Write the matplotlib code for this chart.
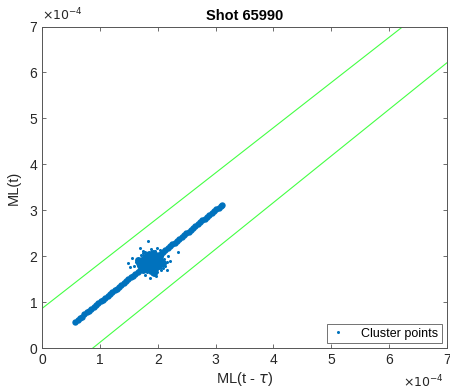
import matplotlib
matplotlib.use('Agg')
import matplotlib.pyplot as plt

plt.rcParams['font.family'] = ['Liberation Sans', 'DejaVu Sans']

# values in units of 1e-4
band_x = [0.57, 0.61, 0.65, 0.69, 0.73, 0.77, 0.81, 0.85, 0.89, 0.93, 0.97, 1.01,
          1.05, 1.09, 1.13, 1.17, 1.21, 1.25, 1.29, 1.33, 1.37, 1.41, 1.45, 1.49,
          1.53, 1.57, 1.61, 1.65, 1.69, 1.73, 1.77, 1.81, 1.85, 1.89, 1.93, 1.97,
          2.01, 2.05, 2.09, 2.13, 2.17, 2.21, 2.25, 2.29, 2.33, 2.37, 2.41, 2.45,
          2.49, 2.53, 2.57, 2.61, 2.65, 2.69, 2.73, 2.77, 2.81, 2.85, 2.89, 2.93,
          2.97, 3.01, 3.05, 3.09, 3.11]
band_y = [0.57, 0.61, 0.65, 0.69, 0.74, 0.78, 0.82, 0.86, 0.90, 0.94, 0.98, 1.02,
          1.06, 1.10, 1.14, 1.18, 1.22, 1.26, 1.30, 1.34, 1.38, 1.42, 1.46, 1.50,
          1.54, 1.58, 1.62, 1.66, 1.70, 1.74, 1.78, 1.82, 1.86, 1.90, 1.94, 1.98,
          2.02, 2.06, 2.10, 2.14, 2.18, 2.22, 2.26, 2.30, 2.34, 2.38, 2.42, 2.46,
          2.50, 2.54, 2.58, 2.62, 2.66, 2.70, 2.74, 2.78, 2.82, 2.86, 2.90, 2.94,
          2.98, 3.02, 3.06, 3.10, 3.12]

core_x = [1.70, 1.75, 1.80, 1.85, 1.90, 1.95, 1.75, 1.80, 1.85, 1.90, 1.95, 2.00,
          1.80, 1.85, 1.90, 1.95, 2.00, 2.05, 1.72, 1.78, 1.85, 1.92, 1.88, 1.95,
          2.02, 2.08, 1.68, 1.82, 1.98, 1.66, 1.74, 2.04, 1.93]
core_y = [1.80, 1.85, 1.90, 1.95, 2.00, 2.02, 1.75, 1.80, 1.85, 1.90, 1.95, 1.98,
          1.72, 1.75, 1.80, 1.85, 1.88, 1.90, 1.92, 1.98, 2.05, 2.08, 1.68, 1.72,
          1.78, 1.85, 1.85, 2.00, 1.78, 1.92, 1.70, 2.00, 1.64]

scatter_x = [1.62, 1.65, 1.70, 1.78, 1.88, 1.95, 2.02, 2.10, 2.12, 2.05, 1.98, 1.90,
             1.82, 1.72, 1.66, 2.15, 2.08, 1.75,
             1.83, 2.35, 1.49, 1.52, 1.59, 1.86, 1.96, 2.15, 2.21, 2.18, 1.69, 1.98,
             1.75, 2.04, 1.78, 2.09, 1.55]
scatter_y = [1.88, 1.95, 2.02, 2.10, 2.15, 2.12, 2.05, 1.95, 1.80, 1.70, 1.65, 1.62,
             1.65, 1.70, 1.78, 1.88, 1.75, 2.12,
             2.34, 2.10, 1.86, 1.76, 1.78, 1.53, 1.58, 1.71, 1.89, 2.00, 2.18, 2.18,
             2.07, 2.14, 1.60, 1.81, 1.96]

upper_x = [0.0, 6.24]
upper_y = [0.87, 7.0]
lower_x = [0.87, 7.0]
lower_y = [0.0, 6.21]

ticks = [0, 1, 2, 3, 4, 5, 6, 7]

blue = '#0072BD'
green = '#44ff44'
axc = '#555555'

fig = plt.figure(figsize=(4.5, 3.9), dpi=100)
ax = fig.add_axes([0.094, 0.107, 0.899, 0.825])

ax.plot(upper_x, upper_y, color=green, lw=0.8)
ax.plot(lower_x, lower_y, color=green, lw=0.8)
ax.plot(band_x, band_y, 'o', color=blue, ms=4.6, mew=0)
ax.plot(core_x, core_y, 'o', color=blue, ms=5.0, mew=0)
ax.plot(scatter_x, scatter_y, 'o', color=blue, ms=2.2, mew=0, label='Cluster points')

ax.set_xlim(0, 7)
ax.set_ylim(0, 7)
ax.set_xticks(ticks)
ax.set_yticks(ticks)
ax.tick_params(direction='in', length=3, width=0.6, colors=axc, labelcolor='#262626',
               labelsize=10, top=True, right=True)
for s in ax.spines.values():
    s.set_color(axc)
    s.set_linewidth(0.7)

ax.set_title('Shot 65990', fontsize=10.5, fontweight='bold', pad=5)
ax.set_xlabel(r'ML(t - $\tau$)', fontsize=10.5, color='#262626', labelpad=2)
ax.set_ylabel('ML(t)', fontsize=10.5, color='#262626', labelpad=6)

ax.text(0.0, 1.01, r'$\times10^{-4}$', transform=ax.transAxes, fontsize=9,
        color='#262626', ha='left', va='bottom')
ax.text(0.993, -0.08, r'$\times10^{-4}$', transform=ax.transAxes, fontsize=9,
        color='#262626', ha='right', va='top')

leg = ax.legend(loc='lower right', fontsize=9, frameon=True, fancybox=False,
                edgecolor='#333333', borderpad=0.3, handlelength=1.2,
                handletextpad=1.2, borderaxespad=0.4, markerscale=1.0)
leg.get_frame().set_linewidth(0.6)

fig.savefig('out.png', dpi=100)
